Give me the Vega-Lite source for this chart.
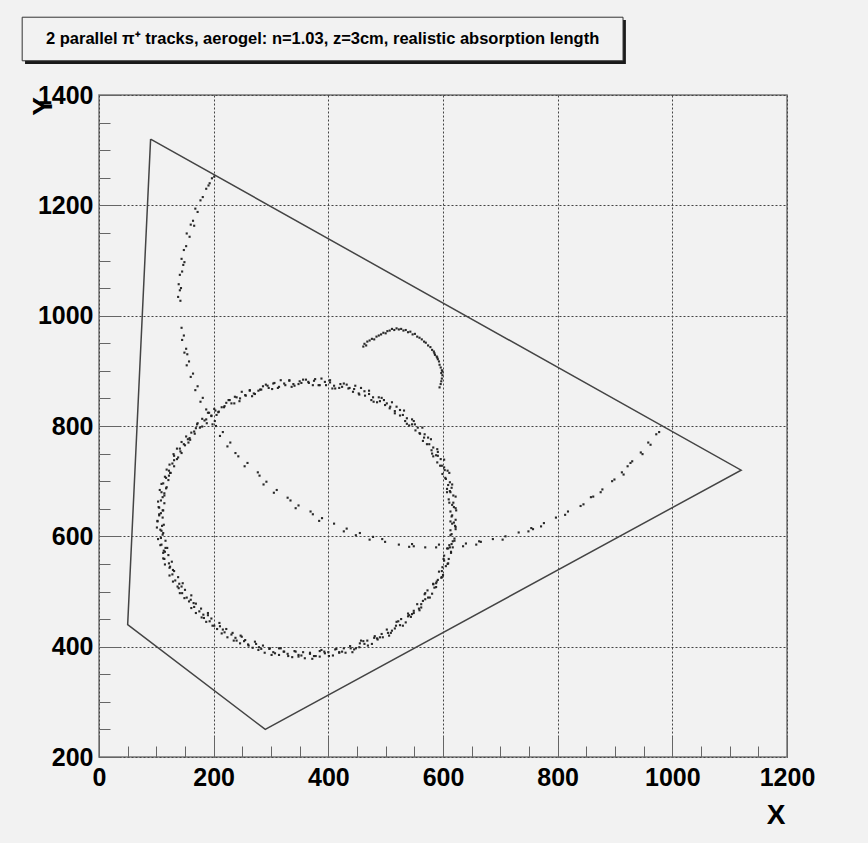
{
  "$schema": "https://vega.github.io/schema/vega-lite/v6.json",
  "width": 688,
  "height": 662,
  "autosize": {"type": "none"},
  "padding": {"left": 99, "top": 95, "right": 81, "bottom": 86},
  "background": "#f2f2f2",
  "config": {
    "view": {"stroke": "#777777", "strokeWidth": 1.5},
    "font": "Liberation Sans, Arial, sans-serif"
  },
  "resolve": {"axis": {"x": "independent", "y": "independent"}},
  "datasets": {
    "triangle": [
      {"i": 0, "x": 90, "y": 1320},
      {"i": 1, "x": 1120, "y": 720},
      {"i": 2, "x": 290, "y": 250},
      {"i": 3, "x": 50, "y": 440},
      {"i": 4, "x": 90, "y": 1320}
    ],
    "hits": [
      {"x":615,"y":636},{"x":622,"y":630},{"x":619,"y":625},{"x":616,"y":638},{"x":623,"y":647},
      {"x":622,"y":651},{"x":613,"y":645},{"x":616,"y":657},{"x":619,"y":653},{"x":611,"y":661},
      {"x":618,"y":661},{"x":610,"y":667},{"x":622,"y":672},{"x":613,"y":680},{"x":618,"y":674},
      {"x":607,"y":680},{"x":615,"y":688},{"x":612,"y":682},{"x":616,"y":694},{"x":607,"y":686},
      {"x":605,"y":704},{"x":612,"y":698},{"x":609,"y":693},{"x":604,"y":706},{"x":611,"y":715},
      {"x":608,"y":719},{"x":599,"y":713},{"x":602,"y":725},{"x":603,"y":720},{"x":595,"y":728},
      {"x":598,"y":728},{"x":590,"y":734},{"x":602,"y":739},{"x":591,"y":746},{"x":596,"y":740},
      {"x":583,"y":745},{"x":591,"y":753},{"x":588,"y":747},{"x":590,"y":758},{"x":581,"y":750},
      {"x":576,"y":767},{"x":583,"y":761},{"x":580,"y":756},{"x":572,"y":767},{"x":579,"y":776},
      {"x":574,"y":779},{"x":565,"y":773},{"x":568,"y":785},{"x":567,"y":779},{"x":559,"y":787},
      {"x":560,"y":786},{"x":552,"y":792},{"x":564,"y":797},{"x":551,"y":803},{"x":556,"y":797},
      {"x":541,"y":801},{"x":549,"y":809},{"x":546,"y":803},{"x":546,"y":812},{"x":537,"y":804},
      {"x":530,"y":820},{"x":537,"y":814},{"x":534,"y":809},{"x":525,"y":819},{"x":532,"y":828},
      {"x":525,"y":829},{"x":516,"y":823},{"x":519,"y":835},{"x":516,"y":827},{"x":508,"y":835},
      {"x":507,"y":832},{"x":499,"y":838},{"x":511,"y":843},{"x":497,"y":847},{"x":502,"y":841},
      {"x":485,"y":843},{"x":493,"y":851},{"x":490,"y":845},{"x":488,"y":852},{"x":479,"y":844},
      {"x":471,"y":858},{"x":478,"y":852},{"x":475,"y":847},{"x":464,"y":855},{"x":471,"y":864},
      {"x":463,"y":863},{"x":454,"y":857},{"x":457,"y":869},{"x":453,"y":859},{"x":445,"y":867},
      {"x":443,"y":862},{"x":435,"y":868},{"x":447,"y":873},{"x":432,"y":875},{"x":437,"y":869},
      {"x":419,"y":869},{"x":427,"y":877},{"x":424,"y":871},{"x":421,"y":876},{"x":412,"y":868},
      {"x":403,"y":879},{"x":410,"y":873},{"x":407,"y":868},{"x":396,"y":874},{"x":403,"y":883},
      {"x":394,"y":880},{"x":385,"y":874},{"x":388,"y":886},{"x":383,"y":874},{"x":375,"y":882},
      {"x":373,"y":874},{"x":365,"y":880},{"x":377,"y":885},{"x":361,"y":884},{"x":366,"y":878},
      {"x":348,"y":876},{"x":356,"y":884},{"x":353,"y":878},{"x":350,"y":881},{"x":341,"y":873},
      {"x":332,"y":882},{"x":339,"y":876},{"x":336,"y":871},{"x":325,"y":874},{"x":332,"y":883},
      {"x":323,"y":877},{"x":314,"y":871},{"x":317,"y":883},{"x":312,"y":869},{"x":304,"y":877},
      {"x":302,"y":867},{"x":294,"y":873},{"x":306,"y":878},{"x":291,"y":875},{"x":296,"y":869},
      {"x":278,"y":864},{"x":286,"y":872},{"x":283,"y":866},{"x":281,"y":866},{"x":272,"y":858},
      {"x":263,"y":865},{"x":270,"y":859},{"x":267,"y":854},{"x":256,"y":855},{"x":263,"y":864},
      {"x":255,"y":856},{"x":246,"y":850},{"x":249,"y":862},{"x":245,"y":845},{"x":237,"y":853},
      {"x":236,"y":841},{"x":228,"y":847},{"x":240,"y":852},{"x":226,"y":847},{"x":231,"y":841},
      {"x":214,"y":834},{"x":222,"y":842},{"x":219,"y":836},{"x":218,"y":834},{"x":209,"y":826},
      {"x":201,"y":831},{"x":208,"y":825},{"x":205,"y":820},{"x":196,"y":819},{"x":203,"y":828},
      {"x":196,"y":818},{"x":187,"y":812},{"x":190,"y":824},{"x":188,"y":805},{"x":180,"y":813},
      {"x":180,"y":799},{"x":172,"y":805},{"x":184,"y":810},{"x":171,"y":803},{"x":176,"y":797},
      {"x":161,"y":788},{"x":169,"y":796},{"x":166,"y":790},{"x":167,"y":786},{"x":158,"y":778},
      {"x":152,"y":781},{"x":159,"y":775},{"x":156,"y":770},{"x":148,"y":767},{"x":155,"y":776},
      {"x":150,"y":765},{"x":141,"y":759},{"x":144,"y":771},{"x":144,"y":751},{"x":136,"y":759},
      {"x":138,"y":743},{"x":130,"y":749},{"x":142,"y":754},{"x":131,"y":746},{"x":136,"y":740},
      {"x":123,"y":730},{"x":131,"y":738},{"x":128,"y":732},{"x":131,"y":727},{"x":122,"y":719},
      {"x":118,"y":721},{"x":125,"y":715},{"x":122,"y":710},{"x":117,"y":706},{"x":124,"y":715},
      {"x":121,"y":702},{"x":112,"y":696},{"x":115,"y":708},{"x":117,"y":687},{"x":109,"y":695},
      {"x":114,"y":678},{"x":106,"y":684},{"x":118,"y":689},{"x":109,"y":680},{"x":114,"y":674},
      {"x":103,"y":663},{"x":111,"y":671},{"x":108,"y":665},{"x":114,"y":660},{"x":105,"y":652},
      {"x":104,"y":653},{"x":111,"y":647},{"x":108,"y":642},{"x":105,"y":638},{"x":112,"y":647},
      {"x":111,"y":634},{"x":102,"y":628},{"x":105,"y":640},{"x":110,"y":619},{"x":102,"y":627},
      {"x":109,"y":610},{"x":101,"y":616},{"x":113,"y":621},{"x":107,"y":612},{"x":112,"y":606},
      {"x":103,"y":595},{"x":111,"y":603},{"x":108,"y":597},{"x":116,"y":592},{"x":107,"y":584},
      {"x":109,"y":585},{"x":116,"y":579},{"x":113,"y":574},{"x":112,"y":570},{"x":119,"y":579},
      {"x":121,"y":566},{"x":112,"y":560},{"x":115,"y":572},{"x":122,"y":551},{"x":114,"y":559},
      {"x":123,"y":543},{"x":115,"y":549},{"x":127,"y":554},{"x":124,"y":545},{"x":129,"y":539},
      {"x":123,"y":529},{"x":131,"y":537},{"x":128,"y":531},{"x":138,"y":526},{"x":129,"y":518},
      {"x":133,"y":520},{"x":140,"y":514},{"x":137,"y":509},{"x":139,"y":506},{"x":146,"y":515},
      {"x":150,"y":503},{"x":141,"y":497},{"x":144,"y":509},{"x":153,"y":489},{"x":145,"y":497},
      {"x":157,"y":482},{"x":149,"y":488},{"x":161,"y":493},{"x":160,"y":485},{"x":165,"y":479},
      {"x":161,"y":470},{"x":169,"y":478},{"x":166,"y":472},{"x":178,"y":469},{"x":169,"y":461},
      {"x":175,"y":464},{"x":182,"y":458},{"x":179,"y":453},{"x":183,"y":452},{"x":190,"y":461},
      {"x":196,"y":451},{"x":187,"y":445},{"x":190,"y":457},{"x":201,"y":438},{"x":193,"y":446},
      {"x":206,"y":432},{"x":198,"y":438},{"x":210,"y":443},{"x":211,"y":437},{"x":216,"y":431},
      {"x":214,"y":424},{"x":222,"y":432},{"x":219,"y":426},{"x":233,"y":425},{"x":224,"y":417},
      {"x":231,"y":422},{"x":238,"y":416},{"x":235,"y":411},{"x":240,"y":411},{"x":247,"y":420},
      {"x":255,"y":412},{"x":246,"y":406},{"x":249,"y":418},{"x":261,"y":402},{"x":253,"y":410},
      {"x":268,"y":398},{"x":260,"y":404},{"x":272,"y":409},{"x":274,"y":405},{"x":279,"y":399},
      {"x":278,"y":394},{"x":286,"y":402},{"x":283,"y":396},{"x":298,"y":397},{"x":289,"y":389},
      {"x":297,"y":396},{"x":304,"y":390},{"x":301,"y":385},{"x":307,"y":388},{"x":314,"y":397},
      {"x":323,"y":391},{"x":314,"y":385},{"x":317,"y":397},{"x":330,"y":383},{"x":322,"y":391},
      {"x":337,"y":381},{"x":329,"y":387},{"x":341,"y":392},{"x":343,"y":391},{"x":348,"y":385},
      {"x":348,"y":382},{"x":356,"y":390},{"x":353,"y":384},{"x":368,"y":387},{"x":359,"y":379},
      {"x":368,"y":389},{"x":375,"y":383},{"x":372,"y":378},{"x":378,"y":383},{"x":385,"y":392},
      {"x":394,"y":388},{"x":385,"y":382},{"x":388,"y":394},{"x":401,"y":383},{"x":393,"y":391},
      {"x":408,"y":384},{"x":400,"y":390},{"x":412,"y":395},{"x":414,"y":396},{"x":419,"y":390},
      {"x":419,"y":389},{"x":427,"y":397},{"x":424,"y":391},{"x":439,"y":397},{"x":430,"y":389},
      {"x":438,"y":401},{"x":445,"y":395},{"x":442,"y":390},{"x":448,"y":397},{"x":455,"y":406},
      {"x":463,"y":405},{"x":454,"y":399},{"x":457,"y":411},{"x":469,"y":402},{"x":461,"y":410},
      {"x":476,"y":405},{"x":468,"y":411},{"x":480,"y":416},{"x":481,"y":419},{"x":486,"y":413},
      {"x":485,"y":415},{"x":493,"y":423},{"x":490,"y":417},{"x":504,"y":425},{"x":495,"y":417},
      {"x":502,"y":431},{"x":509,"y":425},{"x":506,"y":420},{"x":511,"y":429},{"x":518,"y":438},
      {"x":525,"y":439},{"x":516,"y":433},{"x":519,"y":445},{"x":530,"y":438},{"x":522,"y":446},
      {"x":535,"y":444},{"x":527,"y":450},{"x":539,"y":455},{"x":539,"y":460},{"x":544,"y":454},
      {"x":541,"y":457},{"x":549,"y":465},{"x":546,"y":459},{"x":558,"y":469},{"x":549,"y":461},
      {"x":555,"y":477},{"x":562,"y":471},{"x":559,"y":466},{"x":562,"y":477},{"x":569,"y":486},
      {"x":574,"y":489},{"x":565,"y":483},{"x":568,"y":495},{"x":577,"y":489},{"x":569,"y":497},
      {"x":581,"y":496},{"x":573,"y":502},{"x":585,"y":507},{"x":583,"y":514},{"x":588,"y":508},
      {"x":583,"y":513},{"x":591,"y":521},{"x":588,"y":515},{"x":598,"y":526},{"x":589,"y":518},
      {"x":593,"y":536},{"x":600,"y":530},{"x":597,"y":525},{"x":598,"y":537},{"x":605,"y":546},
      {"x":608,"y":550},{"x":599,"y":544},{"x":602,"y":556},{"x":609,"y":551},{"x":601,"y":559},
      {"x":610,"y":559},{"x":602,"y":565},{"x":614,"y":570},{"x":609,"y":578},{"x":614,"y":572},
      {"x":607,"y":578},{"x":615,"y":586},{"x":612,"y":580},{"x":620,"y":592},{"x":611,"y":584},
      {"x":613,"y":602},{"x":620,"y":596},{"x":617,"y":591},{"x":615,"y":604},{"x":622,"y":613},
      {"x":622,"y":617},{"x":613,"y":611},{"x":616,"y":623},{"x":621,"y":619},{"x":613,"y":627},
      {"x":197,"y":1249},{"x":201,"y":1252},
      {"x":191,"y":1236},{"x":187,"y":1230},{"x":193,"y":1240},
      {"x":181,"y":1215},{"x":177,"y":1209},
      {"x":172,"y":1188},{"x":168,"y":1194},
      {"x":164,"y":1172},{"x":160,"y":1165},{"x":166,"y":1163},
      {"x":153,"y":1149},{"x":158,"y":1143},
      {"x":152,"y":1126},{"x":148,"y":1119},
      {"x":144,"y":1103},{"x":149,"y":1097},{"x":147,"y":1092},
      {"x":145,"y":1080},{"x":141,"y":1074},
      {"x":139,"y":1057},{"x":143,"y":1050},{"x":141,"y":1046},
      {"x":138,"y":1034},{"x":142,"y":1027},
      {"x":144,"y":978},
      {"x":148,"y":964},{"x":145,"y":956},
      {"x":152,"y":940},{"x":149,"y":933},{"x":154,"y":930},
      {"x":157,"y":917},{"x":153,"y":910},
      {"x":164,"y":895},{"x":160,"y":889},
      {"x":172,"y":872},{"x":168,"y":865},
      {"x":181,"y":851},{"x":177,"y":844},
      {"x":187,"y":830},{"x":192,"y":824},
      {"x":202,"y":809},{"x":198,"y":803},{"x":204,"y":800},
      {"x":216,"y":789},{"x":211,"y":782},
      {"x":229,"y":770},{"x":224,"y":763},
      {"x":243,"y":745},{"x":238,"y":751},
      {"x":259,"y":733},{"x":254,"y":727},
      {"x":277,"y":716},{"x":280,"y":710},
      {"x":292,"y":699},{"x":287,"y":694},
      {"x":310,"y":684},{"x":305,"y":679},
      {"x":329,"y":670},{"x":334,"y":665},
      {"x":348,"y":656},{"x":343,"y":651},
      {"x":369,"y":645},{"x":373,"y":640},
      {"x":389,"y":633},{"x":384,"y":628},
      {"x":410,"y":623},
      {"x":432,"y":614},{"x":427,"y":609},
      {"x":448,"y":602},{"x":455,"y":606},
      {"x":478,"y":599},{"x":472,"y":594},
      {"x":499,"y":590},{"x":494,"y":595},
      {"x":523,"y":585},
      {"x":546,"y":586},{"x":541,"y":581},{"x":549,"y":582},
      {"x":569,"y":580},
      {"x":593,"y":585},{"x":588,"y":580},
      {"x":617,"y":580},
      {"x":640,"y":587},{"x":635,"y":582},
      {"x":663,"y":591},{"x":658,"y":585},{"x":666,"y":590},
      {"x":687,"y":595},
      {"x":709,"y":600},{"x":704,"y":594},
      {"x":732,"y":607},
      {"x":754,"y":615},{"x":749,"y":609},{"x":757,"y":613},
      {"x":776,"y":624},{"x":771,"y":618},
      {"x":797,"y":634},
      {"x":818,"y":645},{"x":813,"y":639},
      {"x":840,"y":655},{"x":845,"y":658},
      {"x":858,"y":671},{"x":862,"y":672},
      {"x":878,"y":685},{"x":875,"y":680},
      {"x":895,"y":700},{"x":899,"y":703},
      {"x":912,"y":716},{"x":915,"y":712},
      {"x":927,"y":733},{"x":930,"y":736},{"x":922,"y":727},
      {"x":945,"y":752},{"x":948,"y":749},
      {"x":958,"y":770},{"x":962,"y":766},
      {"x":972,"y":785},{"x":977,"y":789},
      {"x":461,"y":944},{"x":463,"y":949},{"x":466,"y":946},{"x":468,"y":953},{"x":472,"y":955},
      {"x":476,"y":958},{"x":480,"y":957},{"x":484,"y":962},{"x":488,"y":964},{"x":492,"y":966},
      {"x":496,"y":969},{"x":500,"y":968},{"x":503,"y":972},{"x":507,"y":973},{"x":511,"y":976},
      {"x":515,"y":974},{"x":519,"y":977},{"x":523,"y":975},{"x":527,"y":976},{"x":531,"y":973},
      {"x":535,"y":974},{"x":539,"y":970},{"x":543,"y":971},{"x":547,"y":966},{"x":551,"y":967},
      {"x":555,"y":962},{"x":559,"y":960},{"x":563,"y":957},{"x":567,"y":953},{"x":570,"y":951},
      {"x":574,"y":946},{"x":578,"y":943},{"x":581,"y":938},{"x":584,"y":935},{"x":586,"y":929},
      {"x":589,"y":926},{"x":591,"y":921},{"x":593,"y":917},{"x":594,"y":911},{"x":596,"y":906},
      {"x":598,"y":901},{"x":597,"y":896},{"x":599,"y":892},{"x":598,"y":886},{"x":597,"y":881},
      {"x":596,"y":876},{"x":594,"y":870},{"x":599,"y":899},{"x":590,"y":924},{"x":585,"y":932}
    ],
    "caption": [
      {"label": "2 parallel π⁺ tracks, aerogel: n=1.03, z=3cm, realistic absorption length"}
    ]
  },
  "layer": [
    {
      "data": {"name": "triangle"},
      "mark": {"type": "line", "color": "#444444", "strokeWidth": 1.5, "clip": false},
      "encoding": {
        "x": {
          "field": "x", "type": "quantitative",
          "scale": {"domain": [0, 1200], "nice": false, "zero": false},
          "axis": {
            "orient": "bottom", "title": null, "labels": false, "grid": false, "domain": false,
            "values": [0,50,100,150,200,250,300,350,400,450,500,550,600,650,700,750,800,850,900,950,1000,1050,1100,1150,1200],
            "ticks": true, "tickSize": -11, "tickColor": "#666666", "tickWidth": 1
          }
        },
        "y": {
          "field": "y", "type": "quantitative",
          "scale": {"domain": [200, 1400], "nice": false, "zero": false},
          "axis": {
            "orient": "left", "title": null, "labels": false, "grid": false, "domain": false,
            "values": [200,250,300,350,400,450,500,550,600,650,700,750,800,850,900,950,1000,1050,1100,1150,1200,1250,1300,1350,1400],
            "ticks": true, "tickSize": -11, "tickColor": "#666666", "tickWidth": 1
          }
        },
        "order": {"field": "i", "type": "quantitative"}
      }
    },
    {
      "data": {"name": "hits"},
      "mark": {"type": "square", "size": 4.5, "color": "#1e1e1e", "opacity": 0.95},
      "encoding": {
        "x": {
          "field": "x", "type": "quantitative",
          "scale": {"domain": [0, 1200], "nice": false, "zero": false},
          "axis": {
            "orient": "bottom",
            "title": "X",
            "values": [0, 200, 400, 600, 800, 1000, 1200],
            "format": "d",
            "labelOverlap": false,
            "labelFlush": false,
            "labelFont": "Liberation Sans, Arial, sans-serif",
            "labelFontSize": 25,
            "labelFontWeight": "bold",
            "labelColor": "#000000",
            "labelBaseline": "top",
            "labelPadding": 29,
            "domain": false,
            "ticks": true,
            "tickColor": "#666666",
            "tickWidth": 1,
            "tickSize": -21,
            "grid": true,
            "gridColor": "#444444",
            "gridDash": [2, 2],
            "gridWidth": 1,
            "titleFont": "Liberation Sans, Arial, sans-serif",
            "titleFontSize": 28,
            "titleFontWeight": "bold",
            "titleColor": "#000000",
            "titleAlign": "right",
            "titleBaseline": "alphabetic",
            "titleX": 686,
            "titleY": 66
          }
        },
        "y": {
          "field": "y", "type": "quantitative",
          "scale": {"domain": [200, 1400], "nice": false, "zero": false},
          "axis": {
            "orient": "left",
            "title": "Y",
            "values": [200, 400, 600, 800, 1000, 1200, 1400],
            "format": "d",
            "labelOverlap": false,
            "labelFlush": false,
            "labelFont": "Liberation Sans, Arial, sans-serif",
            "labelFontSize": 25,
            "labelFontWeight": "bold",
            "labelColor": "#000000",
            "labelBaseline": "middle",
            "labelPadding": 27,
            "domain": false,
            "ticks": true,
            "tickColor": "#666666",
            "tickWidth": 1,
            "tickSize": -21,
            "grid": true,
            "gridColor": "#444444",
            "gridDash": [2, 2],
            "gridWidth": 1,
            "titleFont": "Liberation Sans, Arial, sans-serif",
            "titleFontSize": 28,
            "titleFontWeight": "bold",
            "titleColor": "#000000",
            "titleAngle": 270,
            "titleAlign": "center",
            "titleBaseline": "middle",
            "titleX": -56,
            "titleY": 11
          }
        }
      }
    },
    {
      "data": {"name": "caption"},
      "mark": {"type": "rect", "color": "#1a1a1a", "clip": false},
      "encoding": {
        "x": {"datum": -129, "type": "quantitative", "scale": {"domain": [0, 1200], "nice": false, "zero": false}, "axis": null},
        "x2": {"datum": 919},
        "y": {"datum": 1456, "type": "quantitative", "scale": {"domain": [200, 1400], "nice": false, "zero": false}, "axis": null},
        "y2": {"datum": 1536}
      }
    },
    {
      "data": {"name": "caption"},
      "mark": {"type": "rect", "fill": "#f2f2f2", "stroke": "#333333", "strokeWidth": 1, "clip": false},
      "encoding": {
        "x": {"datum": -134, "type": "quantitative", "scale": {"domain": [0, 1200], "nice": false, "zero": false}, "axis": null},
        "x2": {"datum": 914},
        "y": {"datum": 1462, "type": "quantitative", "scale": {"domain": [200, 1400], "nice": false, "zero": false}, "axis": null},
        "y2": {"datum": 1541}
      }
    },
    {
      "data": {"name": "caption"},
      "mark": {"type": "text", "font": "Liberation Sans, Arial, sans-serif", "fontSize": 16.5, "fontWeight": "bold", "color": "#000000", "align": "center", "baseline": "middle", "clip": false},
      "encoding": {
        "x": {"datum": 390, "type": "quantitative", "scale": {"domain": [0, 1200], "nice": false, "zero": false}, "axis": null},
        "y": {"datum": 1501, "type": "quantitative", "scale": {"domain": [200, 1400], "nice": false, "zero": false}, "axis": null},
        "text": {"field": "label", "type": "nominal"}
      }
    }
  ]
}
